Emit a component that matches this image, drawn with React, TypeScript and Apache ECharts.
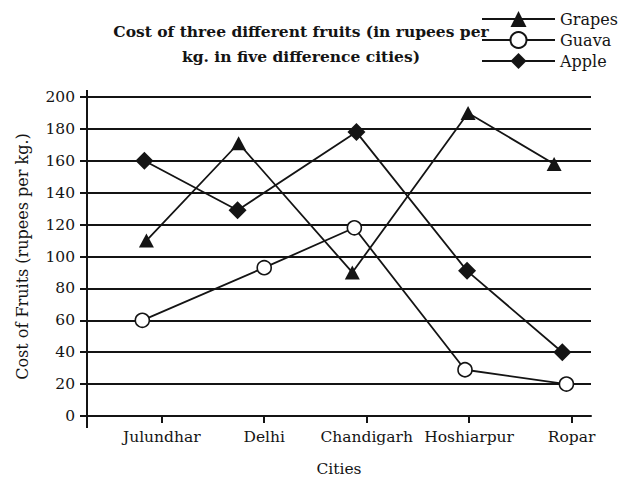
import React, { useEffect, useRef } from "react";
import * as echarts from "echarts";

const cities = ["Julundhar", "Delhi", "Chandigarh", "Hoshiarpur", "Ropar"];
const cityTicks = [0, 1, 2, 3, 4];
const grapes = [110, 171, 90, 190, 158];
const guava = [60, 93, 118, 29, 20];
const apple = [160, 129, 178, 91, 40];
// horizontal positions of the marks (in city-tick units), as placed in the picture
const grapesX = [-0.15, 0.75, 1.86, 2.99, 3.83];
const guavaX = [-0.19, 1.0, 1.88, 2.96, 3.95];
const appleX = [-0.17, 0.74, 1.9, 2.98, 3.91];

const titleText = "Cost of three different fruits (in rupees per\nkg. in five difference cities)";
const FONT = "'DejaVu Serif', 'Liberation Serif', serif";
const INK = "#141414";

export default function App() {
  const ref = useRef<HTMLDivElement>(null);
  useEffect(() => {
    if (!ref.current) return;
    const chart = echarts.init(ref.current, undefined, { renderer: "svg" });
    const pts = (xs: number[], ys: number[]) => xs.map((x, i) => [x, ys[i]]);
    chart.setOption({
      animation: false,
      backgroundColor: "#ffffff",
      textStyle: { fontFamily: FONT, color: INK },
      grid: { left: 87, right: 38, top: 97, bottom: 65, containLabel: false },
      legend: {
        orient: "vertical",
        left: 476,
        top: 6,
        itemWidth: 73,
        itemHeight: 20,
        itemGap: 4,
        textStyle: { fontFamily: FONT, fontSize: 16, color: INK },
        data: ["Grapes", "Guava", "Apple"],
      },
      graphic: [
        {
          type: "text",
          x: 301,
          y: 19,
          style: {
            text: titleText,
            align: "center",
            verticalAlign: "top",
            font: `bold 15.5px ${FONT}`,
            lineHeight: 25,
            fill: INK,
          },
        },
        { type: "line", shape: { x1: 87, y1: 90, x2: 87, y2: 97 }, style: { stroke: INK, lineWidth: 2 } },
        { type: "line", shape: { x1: 87, y1: 417, x2: 87, y2: 428 }, style: { stroke: INK, lineWidth: 2 } },
      ],
      xAxis: {
        type: "value",
        min: -0.73,
        max: 4.19,
        name: "Cities",
        nameLocation: "middle",
        nameGap: 45,
        nameTextStyle: { fontFamily: FONT, fontSize: 15.5, color: INK },
        axisLine: { show: true, onZero: false, lineStyle: { color: INK, width: 2 } },
        axisTick: { show: true, customValues: cityTicks, length: 7, lineStyle: { color: INK, width: 2 } },
        axisLabel: {
          customValues: cityTicks,
          formatter: (v: number) => cities[Math.round(v)] ?? "",
          fontFamily: FONT,
          fontSize: 15.5,
          color: INK,
          margin: 13,
        },
        splitLine: { show: false },
      },
      yAxis: {
        type: "value",
        min: 0,
        max: 200,
        interval: 20,
        name: "Cost of Fruits (rupees per kg.)",
        nameLocation: "middle",
        nameGap: 57,
        nameTextStyle: { fontFamily: FONT, fontSize: 16, color: INK },
        axisLine: { show: true, onZero: false, lineStyle: { color: INK, width: 2 } },
        axisTick: { show: true, length: 7, lineStyle: { color: INK, width: 2 } },
        axisLabel: { fontFamily: FONT, fontSize: 15.5, color: INK, margin: 12 },
        splitLine: { show: true, lineStyle: { color: INK, width: 2 } },
      },
      series: [
        {
          name: "Grapes",
          type: "line",
          data: pts(grapesX, grapes),
          symbol: "triangle",
          symbolSize: [15, 14],
          itemStyle: { color: INK },
          lineStyle: { color: INK, width: 1.8 },
          z: 3,
        },
        {
          name: "Guava",
          type: "line",
          data: pts(guavaX, guava),
          symbol: "circle",
          symbolSize: 14,
          itemStyle: { color: "#ffffff", borderColor: INK, borderWidth: 1.6 },
          lineStyle: { color: INK, width: 1.8 },
          z: 3,
        },
        {
          name: "Apple",
          type: "line",
          data: pts(appleX, apple),
          symbol: "diamond",
          symbolSize: 18,
          itemStyle: { color: INK },
          lineStyle: { color: INK, width: 1.8 },
          z: 3,
        },
      ],
    });
    return () => chart.dispose();
  }, []);
  return <div ref={ref} style={{ width: 629, height: 482, margin: -8 }} />;
}
